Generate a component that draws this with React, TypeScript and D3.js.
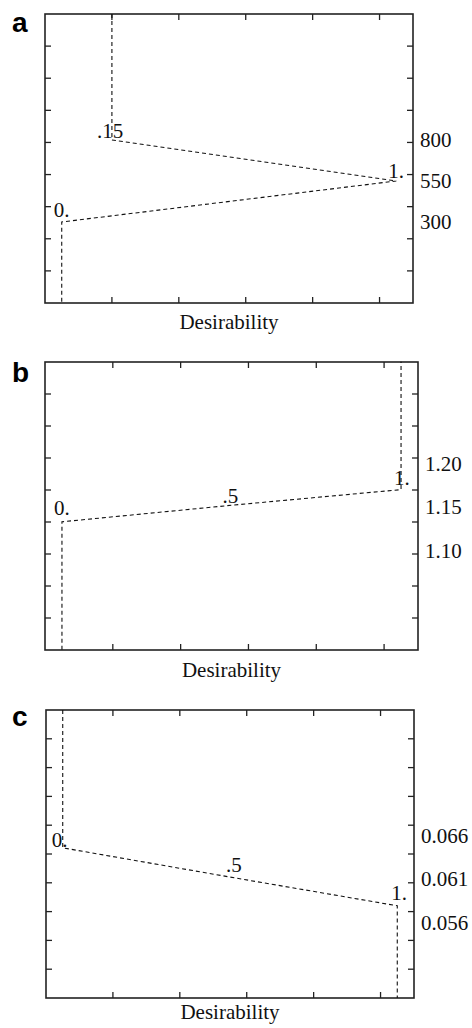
import React, { useEffect, useRef } from 'react';
import * as d3 from 'd3';

// desirability (x) vs response value (y) for each panel
const letters = ["a", "b", "c"];

const aDesir = [0.15, 0.15, 1, 0, 0];
const aValue = [1568, 800, 550, 300, -194];
const aTickLabels = ["800", "550", "300"];
const aTickValues = [800, 550, 300];
const aPointLabels = [".15", "1.", "0."];
const aPointIdx = [1, 2, 3];

const bDesir = [0, 0, 0.5, 1, 1];
const bValue = [0.986, 1.133, 1.152, 1.17, 1.317];
const bTickLabels = ["1.20", "1.15", "1.10"];
const bTickValues = [1.20, 1.15, 1.10];
const bPointLabels = ["0.", ".5", "1."];
const bPointIdx = [1, 2, 3];

const cDesir = [0, 0, 0.5, 1, 1];
const cValue = [0.0804, 0.06456, 0.0612, 0.0579, 0.0473];
const cTickLabels = ["0.066", "0.061", "0.056"];
const cTickValues = [0.066, 0.061, 0.056];
const cPointLabels = ["0.", ".5", "1."];
const cPointIdx = [1, 2, 3];

const xTicks = [0.15, 0.35, 0.55, 0.75, 0.95];
const xLabel = "Desirability";

const serif = "'Liberation Serif', 'DejaVu Serif', 'Times New Roman', serif";
const fs = 21;

function App() {
    const ref = useRef(null);

    useEffect(() => {
        const svg = d3.select(ref.current);
        svg.selectAll("*").remove();

        const panels = [
            { desir: aDesir, value: aValue, tl: aTickLabels, tv: aTickValues, pl: aPointLabels, pi: aPointIdx,
              box: { l: 45, r: 413, t: 14, b: 303 }, yDom: [-194, 1568], nY: 9, letterY: 32, titleDy: 26,
              off: [[-15, -2], [-8, -3], [-8, -5]] },
            { desir: bDesir, value: bValue, tl: bTickLabels, tv: bTickValues, pl: bPointLabels, pi: bPointIdx,
              box: { l: 45, r: 418, t: 362, b: 650 }, yDom: [0.9856, 1.3167], nY: 9, letterY: 382, titleDy: 27,
              off: [[-8, -7], [-9, -2], [-7, -5]] },
            { desir: cDesir, value: cValue, tl: cTickLabels, tv: cTickValues, pl: cPointLabels, pi: cPointIdx,
              box: { l: 46, r: 414, t: 710, b: 998 }, yDom: [0.0473, 0.0804], nY: 10, letterY: 726, titleDy: 21,
              off: [[-11, -1], [-4, -5], [-6, -6]] },
        ];

        panels.forEach((p, i) => {
            const { l, r, t, b } = p.box;
            const x = d3.scaleLinear().domain([-0.05, 1.05]).range([l, r]);
            const y = d3.scaleLinear().domain(p.yDom).range([b, t]);
            const yFrame = d3.scaleLinear().domain([0, p.nY]).range([b, t]);
            const g = svg.append("g");

            // panel letter
            g.append("text")
                .attr("x", 12).attr("y", p.letterY)
                .attr("font-family", "'Liberation Sans', Arial, sans-serif")
                .attr("font-weight", "bold")
                .attr("font-size", 28)
                .text(letters[i]);

            // ticks, drawn inward on all four sides
            const tickLen = 6;
            d3.range(1, p.nY).forEach(k => {
                const yy = yFrame(k);
                g.append("line").attr("x1", l).attr("x2", l + tickLen).attr("y1", yy).attr("y2", yy)
                    .attr("stroke", "#222").attr("stroke-width", 1.3);
                g.append("line").attr("x1", r).attr("x2", r - tickLen).attr("y1", yy).attr("y2", yy)
                    .attr("stroke", "#222").attr("stroke-width", 1.3);
            });
            xTicks.forEach(v => {
                const xx = x(v);
                g.append("line").attr("x1", xx).attr("x2", xx).attr("y1", b).attr("y2", b - tickLen)
                    .attr("stroke", "#222").attr("stroke-width", 1.3);
                g.append("line").attr("x1", xx).attr("x2", xx).attr("y1", t).attr("y2", t + tickLen)
                    .attr("stroke", "#222").attr("stroke-width", 1.3);
            });

            // frame
            g.append("rect")
                .attr("x", l).attr("y", t)
                .attr("width", r - l).attr("height", b - t)
                .attr("fill", "none")
                .attr("stroke", "#222")
                .attr("stroke-width", 1.6);

            // dashed desirability curve
            const line = d3.line()
                .x(d => x(d[0]))
                .y(d => y(d[1]));
            g.append("path")
                .datum(p.desir.map((d, j) => [d, p.value[j]]))
                .attr("d", line)
                .attr("fill", "none")
                .attr("stroke", "#111")
                .attr("stroke-width", 1.1)
                .attr("stroke-dasharray", "4,3");

            // labels on the curve
            p.pl.forEach((txt, j) => {
                const idx = p.pi[j];
                g.append("text")
                    .attr("x", x(p.desir[idx]) + p.off[j][0])
                    .attr("y", y(p.value[idx]) + p.off[j][1])
                    .attr("font-family", serif)
                    .attr("font-size", fs)
                    .attr("fill", "#111")
                    .text(txt);
            });

            // response values on the right
            p.tl.forEach((txt, j) => {
                g.append("text")
                    .attr("x", r + 7)
                    .attr("y", y(p.tv[j]))
                    .attr("dy", "0.35em")
                    .attr("font-family", serif)
                    .attr("font-size", fs)
                    .attr("fill", "#111")
                    .text(txt);
            });

            // x axis title
            g.append("text")
                .attr("x", (l + r) / 2)
                .attr("y", b + p.titleDy)
                .attr("text-anchor", "middle")
                .attr("font-family", serif)
                .attr("font-size", fs)
                .attr("fill", "#111")
                .text(xLabel);
        });
    }, []);

    return (
        <svg
            ref={ref}
            width={472}
            height={1028}
            style={{ position: "absolute", left: 0, top: 0, background: "white" }}
        />
    );
}

export default App;
